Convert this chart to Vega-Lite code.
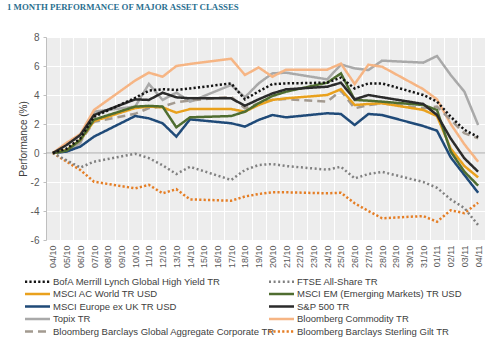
{
  "$schema": "https://vega.github.io/schema/vega-lite/v6.json",
  "width": 439,
  "height": 203,
  "autosize": {"type": "none"},
  "padding": {"left": 46, "top": 37, "right": 15, "bottom": 109},
  "background": "white",
  "title": {"text": "1 MONTH PERFORMANCE OF MAJOR ASSET CLASSES", "anchor": "start", "frame": "group", "dx": -39, "offset": 20, "font": "Liberation Serif", "fontSize": 8.8, "fontWeight": "bold", "color": "#2A6F8F"},
  "config": {"view": {"fill": "#EDEDED", "stroke": null}, "font": "Liberation Sans"},
  "datasets": {
    "perf": [
      {"d":"04/10","s":"Topix TR","v":0},{"d":"05/10","s":"Topix TR","v":0.1},{"d":"06/10","s":"Topix TR","v":0.67},{"d":"07/10","s":"Topix TR","v":2.85},{"d":"10/10","s":"Topix TR","v":3.2},{"d":"11/10","s":"Topix TR","v":4.76},{"d":"12/10","s":"Topix TR","v":3.66},{"d":"13/10","s":"Topix TR","v":4.16},{"d":"14/10","s":"Topix TR","v":3.54},{"d":"17/10","s":"Topix TR","v":4.69},{"d":"18/10","s":"Topix TR","v":3.84},{"d":"19/10","s":"Topix TR","v":4.8},{"d":"20/10","s":"Topix TR","v":5.49},{"d":"21/10","s":"Topix TR","v":5.54},{"d":"24/10","s":"Topix TR","v":5.08},{"d":"25/10","s":"Topix TR","v":6.1},{"d":"26/10","s":"Topix TR","v":5.84},{"d":"27/10","s":"Topix TR","v":5.72},{"d":"28/10","s":"Topix TR","v":6.37},{"d":"31/10","s":"Topix TR","v":6.23},{"d":"01/11","s":"Topix TR","v":6.69},{"d":"02/11","s":"Topix TR","v":5.38},{"d":"03/11","s":"Topix TR","v":4.23},{"d":"04/11","s":"Topix TR","v":1.93},
      {"d":"04/10","s":"Bloomberg Commodity TR","v":0},{"d":"05/10","s":"Bloomberg Commodity TR","v":0.7},{"d":"06/10","s":"Bloomberg Commodity TR","v":1.3},{"d":"07/10","s":"Bloomberg Commodity TR","v":2.97},{"d":"10/10","s":"Bloomberg Commodity TR","v":5.0},{"d":"11/10","s":"Bloomberg Commodity TR","v":5.54},{"d":"12/10","s":"Bloomberg Commodity TR","v":5.26},{"d":"13/10","s":"Bloomberg Commodity TR","v":6.0},{"d":"14/10","s":"Bloomberg Commodity TR","v":6.14},{"d":"17/10","s":"Bloomberg Commodity TR","v":6.5},{"d":"18/10","s":"Bloomberg Commodity TR","v":5.38},{"d":"19/10","s":"Bloomberg Commodity TR","v":5.9},{"d":"20/10","s":"Bloomberg Commodity TR","v":5.26},{"d":"21/10","s":"Bloomberg Commodity TR","v":5.75},{"d":"24/10","s":"Bloomberg Commodity TR","v":5.75},{"d":"25/10","s":"Bloomberg Commodity TR","v":6.16},{"d":"26/10","s":"Bloomberg Commodity TR","v":4.76},{"d":"27/10","s":"Bloomberg Commodity TR","v":6.09},{"d":"28/10","s":"Bloomberg Commodity TR","v":5.95},{"d":"31/10","s":"Bloomberg Commodity TR","v":4.4},{"d":"01/11","s":"Bloomberg Commodity TR","v":3.7},{"d":"02/11","s":"Bloomberg Commodity TR","v":2.0},{"d":"03/11","s":"Bloomberg Commodity TR","v":0.6},{"d":"04/11","s":"Bloomberg Commodity TR","v":-0.6},
      {"d":"04/10","s":"Bloomberg Barclays Sterling Gilt TR","v":0},{"d":"05/10","s":"Bloomberg Barclays Sterling Gilt TR","v":-0.6},{"d":"06/10","s":"Bloomberg Barclays Sterling Gilt TR","v":-1.17},{"d":"07/10","s":"Bloomberg Barclays Sterling Gilt TR","v":-1.98},{"d":"10/10","s":"Bloomberg Barclays Sterling Gilt TR","v":-2.44},{"d":"11/10","s":"Bloomberg Barclays Sterling Gilt TR","v":-2.2},{"d":"12/10","s":"Bloomberg Barclays Sterling Gilt TR","v":-2.78},{"d":"13/10","s":"Bloomberg Barclays Sterling Gilt TR","v":-2.5},{"d":"14/10","s":"Bloomberg Barclays Sterling Gilt TR","v":-3.2},{"d":"17/10","s":"Bloomberg Barclays Sterling Gilt TR","v":-3.29},{"d":"18/10","s":"Bloomberg Barclays Sterling Gilt TR","v":-3.0},{"d":"19/10","s":"Bloomberg Barclays Sterling Gilt TR","v":-2.83},{"d":"20/10","s":"Bloomberg Barclays Sterling Gilt TR","v":-2.71},{"d":"21/10","s":"Bloomberg Barclays Sterling Gilt TR","v":-2.71},{"d":"24/10","s":"Bloomberg Barclays Sterling Gilt TR","v":-2.78},{"d":"25/10","s":"Bloomberg Barclays Sterling Gilt TR","v":-2.74},{"d":"26/10","s":"Bloomberg Barclays Sterling Gilt TR","v":-3.47},{"d":"27/10","s":"Bloomberg Barclays Sterling Gilt TR","v":-4.0},{"d":"28/10","s":"Bloomberg Barclays Sterling Gilt TR","v":-4.5},{"d":"31/10","s":"Bloomberg Barclays Sterling Gilt TR","v":-4.35},{"d":"01/11","s":"Bloomberg Barclays Sterling Gilt TR","v":-4.74},{"d":"02/11","s":"Bloomberg Barclays Sterling Gilt TR","v":-3.95},{"d":"03/11","s":"Bloomberg Barclays Sterling Gilt TR","v":-4.15},{"d":"04/11","s":"Bloomberg Barclays Sterling Gilt TR","v":-3.43},
      {"d":"04/10","s":"FTSE All-Share TR","v":0},{"d":"05/10","s":"FTSE All-Share TR","v":-0.5},{"d":"06/10","s":"FTSE All-Share TR","v":-1.0},{"d":"07/10","s":"FTSE All-Share TR","v":-0.6},{"d":"10/10","s":"FTSE All-Share TR","v":-0.05},{"d":"11/10","s":"FTSE All-Share TR","v":-0.35},{"d":"12/10","s":"FTSE All-Share TR","v":-0.85},{"d":"13/10","s":"FTSE All-Share TR","v":-1.45},{"d":"14/10","s":"FTSE All-Share TR","v":-0.95},{"d":"17/10","s":"FTSE All-Share TR","v":-1.86},{"d":"18/10","s":"FTSE All-Share TR","v":-1.17},{"d":"19/10","s":"FTSE All-Share TR","v":-0.83},{"d":"20/10","s":"FTSE All-Share TR","v":-0.76},{"d":"21/10","s":"FTSE All-Share TR","v":-0.9},{"d":"24/10","s":"FTSE All-Share TR","v":-1.15},{"d":"25/10","s":"FTSE All-Share TR","v":-0.95},{"d":"26/10","s":"FTSE All-Share TR","v":-1.75},{"d":"27/10","s":"FTSE All-Share TR","v":-1.45},{"d":"28/10","s":"FTSE All-Share TR","v":-1.3},{"d":"31/10","s":"FTSE All-Share TR","v":-2.0},{"d":"01/11","s":"FTSE All-Share TR","v":-2.4},{"d":"02/11","s":"FTSE All-Share TR","v":-3.2},{"d":"03/11","s":"FTSE All-Share TR","v":-3.8},{"d":"04/11","s":"FTSE All-Share TR","v":-4.97},
      {"d":"04/10","s":"Bloomberg Barclays Global Aggregate Corporate TR","v":0},{"d":"05/10","s":"Bloomberg Barclays Global Aggregate Corporate TR","v":0.2},{"d":"06/10","s":"Bloomberg Barclays Global Aggregate Corporate TR","v":0.8},{"d":"07/10","s":"Bloomberg Barclays Global Aggregate Corporate TR","v":2.15},{"d":"10/10","s":"Bloomberg Barclays Global Aggregate Corporate TR","v":2.7},{"d":"11/10","s":"Bloomberg Barclays Global Aggregate Corporate TR","v":3.1},{"d":"12/10","s":"Bloomberg Barclays Global Aggregate Corporate TR","v":3.2},{"d":"13/10","s":"Bloomberg Barclays Global Aggregate Corporate TR","v":3.5},{"d":"14/10","s":"Bloomberg Barclays Global Aggregate Corporate TR","v":3.62},{"d":"17/10","s":"Bloomberg Barclays Global Aggregate Corporate TR","v":3.88},{"d":"18/10","s":"Bloomberg Barclays Global Aggregate Corporate TR","v":3.08},{"d":"19/10","s":"Bloomberg Barclays Global Aggregate Corporate TR","v":3.43},{"d":"20/10","s":"Bloomberg Barclays Global Aggregate Corporate TR","v":3.66},{"d":"21/10","s":"Bloomberg Barclays Global Aggregate Corporate TR","v":3.72},{"d":"24/10","s":"Bloomberg Barclays Global Aggregate Corporate TR","v":3.54},{"d":"25/10","s":"Bloomberg Barclays Global Aggregate Corporate TR","v":4.3},{"d":"26/10","s":"Bloomberg Barclays Global Aggregate Corporate TR","v":3.08},{"d":"27/10","s":"Bloomberg Barclays Global Aggregate Corporate TR","v":3.31},{"d":"28/10","s":"Bloomberg Barclays Global Aggregate Corporate TR","v":3.43},{"d":"31/10","s":"Bloomberg Barclays Global Aggregate Corporate TR","v":3.08},{"d":"01/11","s":"Bloomberg Barclays Global Aggregate Corporate TR","v":3.2},{"d":"02/11","s":"Bloomberg Barclays Global Aggregate Corporate TR","v":2.28},{"d":"03/11","s":"Bloomberg Barclays Global Aggregate Corporate TR","v":1.36},{"d":"04/11","s":"Bloomberg Barclays Global Aggregate Corporate TR","v":1.01},
      {"d":"04/10","s":"MSCI Europe ex UK TR USD","v":0},{"d":"05/10","s":"MSCI Europe ex UK TR USD","v":0.1},{"d":"06/10","s":"MSCI Europe ex UK TR USD","v":0.44},{"d":"07/10","s":"MSCI Europe ex UK TR USD","v":1.13},{"d":"10/10","s":"MSCI Europe ex UK TR USD","v":2.55},{"d":"11/10","s":"MSCI Europe ex UK TR USD","v":2.39},{"d":"12/10","s":"MSCI Europe ex UK TR USD","v":2.05},{"d":"13/10","s":"MSCI Europe ex UK TR USD","v":1.13},{"d":"14/10","s":"MSCI Europe ex UK TR USD","v":2.32},{"d":"17/10","s":"MSCI Europe ex UK TR USD","v":2.05},{"d":"18/10","s":"MSCI Europe ex UK TR USD","v":1.82},{"d":"19/10","s":"MSCI Europe ex UK TR USD","v":2.28},{"d":"20/10","s":"MSCI Europe ex UK TR USD","v":2.62},{"d":"21/10","s":"MSCI Europe ex UK TR USD","v":2.46},{"d":"24/10","s":"MSCI Europe ex UK TR USD","v":2.74},{"d":"25/10","s":"MSCI Europe ex UK TR USD","v":2.69},{"d":"26/10","s":"MSCI Europe ex UK TR USD","v":1.93},{"d":"27/10","s":"MSCI Europe ex UK TR USD","v":2.69},{"d":"28/10","s":"MSCI Europe ex UK TR USD","v":2.62},{"d":"31/10","s":"MSCI Europe ex UK TR USD","v":1.86},{"d":"01/11","s":"MSCI Europe ex UK TR USD","v":1.54},{"d":"02/11","s":"MSCI Europe ex UK TR USD","v":-0.3},{"d":"03/11","s":"MSCI Europe ex UK TR USD","v":-1.52},{"d":"04/11","s":"MSCI Europe ex UK TR USD","v":-2.74},
      {"d":"04/10","s":"MSCI AC World TR USD","v":0},{"d":"05/10","s":"MSCI AC World TR USD","v":0.2},{"d":"06/10","s":"MSCI AC World TR USD","v":0.9},{"d":"07/10","s":"MSCI AC World TR USD","v":2.2},{"d":"10/10","s":"MSCI AC World TR USD","v":3.1},{"d":"11/10","s":"MSCI AC World TR USD","v":3.2},{"d":"12/10","s":"MSCI AC World TR USD","v":3.15},{"d":"13/10","s":"MSCI AC World TR USD","v":2.78},{"d":"14/10","s":"MSCI AC World TR USD","v":3.03},{"d":"17/10","s":"MSCI AC World TR USD","v":3.03},{"d":"18/10","s":"MSCI AC World TR USD","v":2.85},{"d":"19/10","s":"MSCI AC World TR USD","v":3.31},{"d":"20/10","s":"MSCI AC World TR USD","v":3.66},{"d":"21/10","s":"MSCI AC World TR USD","v":3.77},{"d":"24/10","s":"MSCI AC World TR USD","v":4.0},{"d":"25/10","s":"MSCI AC World TR USD","v":4.4},{"d":"26/10","s":"MSCI AC World TR USD","v":3.31},{"d":"27/10","s":"MSCI AC World TR USD","v":3.38},{"d":"28/10","s":"MSCI AC World TR USD","v":3.43},{"d":"31/10","s":"MSCI AC World TR USD","v":2.97},{"d":"01/11","s":"MSCI AC World TR USD","v":2.55},{"d":"02/11","s":"MSCI AC World TR USD","v":0.3},{"d":"03/11","s":"MSCI AC World TR USD","v":-0.9},{"d":"04/11","s":"MSCI AC World TR USD","v":-1.68},
      {"d":"04/10","s":"MSCI EM (Emerging Markets) TR USD","v":0},{"d":"05/10","s":"MSCI EM (Emerging Markets) TR USD","v":0.16},{"d":"06/10","s":"MSCI EM (Emerging Markets) TR USD","v":0.9},{"d":"07/10","s":"MSCI EM (Emerging Markets) TR USD","v":2.3},{"d":"10/10","s":"MSCI EM (Emerging Markets) TR USD","v":3.2},{"d":"11/10","s":"MSCI EM (Emerging Markets) TR USD","v":3.25},{"d":"12/10","s":"MSCI EM (Emerging Markets) TR USD","v":3.2},{"d":"13/10","s":"MSCI EM (Emerging Markets) TR USD","v":1.77},{"d":"14/10","s":"MSCI EM (Emerging Markets) TR USD","v":2.46},{"d":"17/10","s":"MSCI EM (Emerging Markets) TR USD","v":2.55},{"d":"18/10","s":"MSCI EM (Emerging Markets) TR USD","v":2.85},{"d":"19/10","s":"MSCI EM (Emerging Markets) TR USD","v":3.43},{"d":"20/10","s":"MSCI EM (Emerging Markets) TR USD","v":3.93},{"d":"21/10","s":"MSCI EM (Emerging Markets) TR USD","v":4.23},{"d":"24/10","s":"MSCI EM (Emerging Markets) TR USD","v":4.85},{"d":"25/10","s":"MSCI EM (Emerging Markets) TR USD","v":5.49},{"d":"26/10","s":"MSCI EM (Emerging Markets) TR USD","v":3.66},{"d":"27/10","s":"MSCI EM (Emerging Markets) TR USD","v":3.61},{"d":"28/10","s":"MSCI EM (Emerging Markets) TR USD","v":3.54},{"d":"31/10","s":"MSCI EM (Emerging Markets) TR USD","v":3.31},{"d":"01/11","s":"MSCI EM (Emerging Markets) TR USD","v":2.97},{"d":"02/11","s":"MSCI EM (Emerging Markets) TR USD","v":0.1},{"d":"03/11","s":"MSCI EM (Emerging Markets) TR USD","v":-1.29},{"d":"04/11","s":"MSCI EM (Emerging Markets) TR USD","v":-2.25},
      {"d":"04/10","s":"S&P 500 TR","v":0},{"d":"05/10","s":"S&P 500 TR","v":0.55},{"d":"06/10","s":"S&P 500 TR","v":1.24},{"d":"07/10","s":"S&P 500 TR","v":2.62},{"d":"10/10","s":"S&P 500 TR","v":3.7},{"d":"11/10","s":"S&P 500 TR","v":3.66},{"d":"12/10","s":"S&P 500 TR","v":4.16},{"d":"13/10","s":"S&P 500 TR","v":3.84},{"d":"14/10","s":"S&P 500 TR","v":3.77},{"d":"17/10","s":"S&P 500 TR","v":3.77},{"d":"18/10","s":"S&P 500 TR","v":3.26},{"d":"19/10","s":"S&P 500 TR","v":3.7},{"d":"20/10","s":"S&P 500 TR","v":4.11},{"d":"21/10","s":"S&P 500 TR","v":4.39},{"d":"24/10","s":"S&P 500 TR","v":4.57},{"d":"25/10","s":"S&P 500 TR","v":4.85},{"d":"26/10","s":"S&P 500 TR","v":3.7},{"d":"27/10","s":"S&P 500 TR","v":4.0},{"d":"28/10","s":"S&P 500 TR","v":3.84},{"d":"31/10","s":"S&P 500 TR","v":3.38},{"d":"01/11","s":"S&P 500 TR","v":2.62},{"d":"02/11","s":"S&P 500 TR","v":1.0},{"d":"03/11","s":"S&P 500 TR","v":-0.37},{"d":"04/11","s":"S&P 500 TR","v":-1.29},
      {"d":"04/10","s":"BofA Merrill Lynch Global High Yield TR","v":0},{"d":"05/10","s":"BofA Merrill Lynch Global High Yield TR","v":0.3},{"d":"06/10","s":"BofA Merrill Lynch Global High Yield TR","v":1.0},{"d":"07/10","s":"BofA Merrill Lynch Global High Yield TR","v":2.5},{"d":"10/10","s":"BofA Merrill Lynch Global High Yield TR","v":3.8},{"d":"11/10","s":"BofA Merrill Lynch Global High Yield TR","v":4.3},{"d":"12/10","s":"BofA Merrill Lynch Global High Yield TR","v":4.4},{"d":"13/10","s":"BofA Merrill Lynch Global High Yield TR","v":4.35},{"d":"14/10","s":"BofA Merrill Lynch Global High Yield TR","v":4.45},{"d":"17/10","s":"BofA Merrill Lynch Global High Yield TR","v":4.8},{"d":"18/10","s":"BofA Merrill Lynch Global High Yield TR","v":3.7},{"d":"19/10","s":"BofA Merrill Lynch Global High Yield TR","v":4.25},{"d":"20/10","s":"BofA Merrill Lynch Global High Yield TR","v":4.75},{"d":"21/10","s":"BofA Merrill Lynch Global High Yield TR","v":4.8},{"d":"24/10","s":"BofA Merrill Lynch Global High Yield TR","v":4.85},{"d":"25/10","s":"BofA Merrill Lynch Global High Yield TR","v":5.2},{"d":"26/10","s":"BofA Merrill Lynch Global High Yield TR","v":4.45},{"d":"27/10","s":"BofA Merrill Lynch Global High Yield TR","v":4.8},{"d":"28/10","s":"BofA Merrill Lynch Global High Yield TR","v":4.8},{"d":"31/10","s":"BofA Merrill Lynch Global High Yield TR","v":4.0},{"d":"01/11","s":"BofA Merrill Lynch Global High Yield TR","v":3.55},{"d":"02/11","s":"BofA Merrill Lynch Global High Yield TR","v":2.5},{"d":"03/11","s":"BofA Merrill Lynch Global High Yield TR","v":1.6},{"d":"04/11","s":"BofA Merrill Lynch Global High Yield TR","v":1.1}
    ]
  },
  "layer": [
    {
      "data": {"values": [{}]},
      "mark": {"type": "rule", "color": "#A6A6A6", "strokeWidth": 1},
      "encoding": {"y": {"datum": 0, "type": "quantitative", "axis": {"values": [-6, -4, -2, 0, 2, 4, 6, 8], "labelOverlap": false}}}
    },
    {
      "data": {"name": "perf"},
      "mark": {"type": "line", "strokeWidth": 2.5, "strokeCap": "butt"},
      "encoding": {
        "x": {
          "field": "d", "type": "ordinal", "bandPosition": 0.5,
          "scale": {"type": "band", "paddingInner": 0, "paddingOuter": 0,
            "domain": ["04/10","05/10","06/10","07/10","08/10","09/10","10/10","11/10","12/10","13/10","14/10","15/10","16/10","17/10","18/10","19/10","20/10","21/10","22/10","23/10","24/10","25/10","26/10","27/10","28/10","29/10","30/10","31/10","01/11","02/11","03/11","04/11"]},
          "axis": {"title": null, "labelAngle": -90, "labelFontSize": 9, "labelColor": "#595959", "ticks": false, "domain": false, "labelPadding": 5, "grid": true, "gridColor": "#FFFFFF", "gridWidth": 1, "tickBand": "extent"}
        },
        "y": {
          "field": "v", "type": "quantitative",
          "scale": {"domain": [-6, 8], "nice": false},
          "axis": {"values": [-6, -4, -2, 0, 2, 4, 6, 8], "title": "Performance (%)", "labelExpr": "datum.value + ''", "labelOverlap": false, "labelBound": false, "labelFlush": false, "grid": true, "gridColor": "#FFFFFF", "gridWidth": 1, "domainColor": "#BFBFBF", "tickColor": "#BFBFBF", "tickSize": 3, "labelColor": "#595959", "labelFontSize": 10, "labelPadding": 4, "titleColor": "#404040", "titleFontSize": 10, "titleFontWeight": "normal", "titlePadding": 2}
        },
        "color": {
          "field": "s", "type": "nominal", "title": null,
          "scale": {
            "domain": ["BofA Merrill Lynch Global High Yield TR","FTSE All-Share TR","MSCI AC World TR USD","MSCI EM (Emerging Markets) TR USD","MSCI Europe ex UK TR USD","S&P 500 TR","Topix TR","Bloomberg Commodity TR","Bloomberg Barclays Global Aggregate Corporate TR","Bloomberg Barclays Sterling Gilt TR"],
            "range": ["#141414","#808080","#E9A11D","#4F6D30","#1F4A78","#2B2B2B","#A9A9A9","#F6B584","#A39A90","#E57E25"]
          },
          "legend": {"orient": "none", "legendX": -15, "legendY": 238, "columns": 2, "direction": "horizontal", "padding": 0, "symbolType": "M-2.5,0H2.5", "symbolSize": 100, "symbolStrokeWidth": 2.5, "labelFontSize": 9.5, "labelColor": "#404040", "labelFont": "Liberation Sans", "labelOffset": 9, "rowPadding": 0.5, "columnPadding": -14, "labelLimit": 230}
        },
        "strokeDash": {
          "field": "s", "type": "nominal", "title": null,
          "scale": {
            "domain": ["BofA Merrill Lynch Global High Yield TR","FTSE All-Share TR","MSCI AC World TR USD","MSCI EM (Emerging Markets) TR USD","MSCI Europe ex UK TR USD","S&P 500 TR","Topix TR","Bloomberg Commodity TR","Bloomberg Barclays Global Aggregate Corporate TR","Bloomberg Barclays Sterling Gilt TR"],
            "range": [[2.2,2.2],[2,2.6],[1,0],[1,0],[1,0],[1,0],[1,0],[1,0],[8,5],[2.2,2.2]]
          }
        }
      }
    }
  ]
}
